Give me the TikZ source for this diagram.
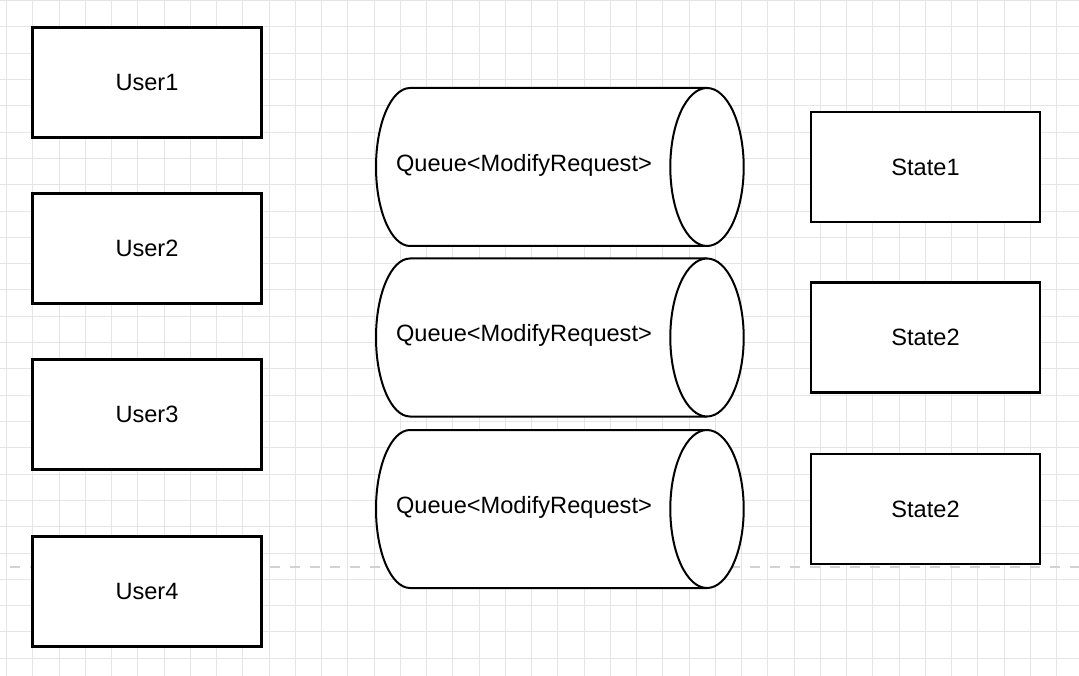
\documentclass[tikz,border=0pt]{standalone}
\usepackage{fontspec}
\setmainfont{Liberation Sans}

\tikzset{
  box/.style={draw,line width=2.4pt,fill=white,minimum width=229pt,minimum height=110pt,inner sep=0pt},
  queueline/.style={draw,line width=2pt,fill=white},
}

\begin{document}
\begin{tikzpicture}[x=1pt,y=-1pt,font=\fontsize{23.6}{28}\selectfont]
    \useasboundingbox (0,0) rectangle (1079,676);
    \fill[white] (0,0) rectangle (1079,676);

    % grid
    \foreach \i in {0,...,41}
      \draw[gray!20,line width=1pt] (6.7+26.25*\i,0) -- (6.7+26.25*\i,676);
    \foreach \j in {0,...,25}
      \draw[gray!20,line width=1pt] (0,0.7+26.3*\j) -- (1079,0.7+26.3*\j);
    \draw[gray!35,line width=2.6pt,dash pattern=on 10pt off 10pt] (10,567) -- (1079,567);

    % users
    \node[box] (user1) at (147,82.5) {User1};
    \node[box] (user2) at (147,248.5) {User2};
    \node[box] (user3) at (147,414.5) {User3};
    \node[box] (user4) at (147,591.5) {User4};

    % queues
    \foreach \cy/\n in {167/1,337.5/2,509/3}{
      \path[queueline] (707,\cy-79) -- (410,\cy-79)
        arc[start angle=270,end angle=90,x radius=34,y radius=79] -- (707,\cy+79);
      \path[queueline] (707,\cy) ellipse[x radius=36.7,y radius=79];
      \node (queue\n) at (524,\cy-2) {Queue<ModifyRequest>};
    }

    % states
    \node[box] (state1) at (925.5,167) {State1};
    \node[box] (state2) at (925.5,337.5) {State2};
    \node[box] (state3) at (925.5,509) {State2};
\end{tikzpicture}
\end{document}
